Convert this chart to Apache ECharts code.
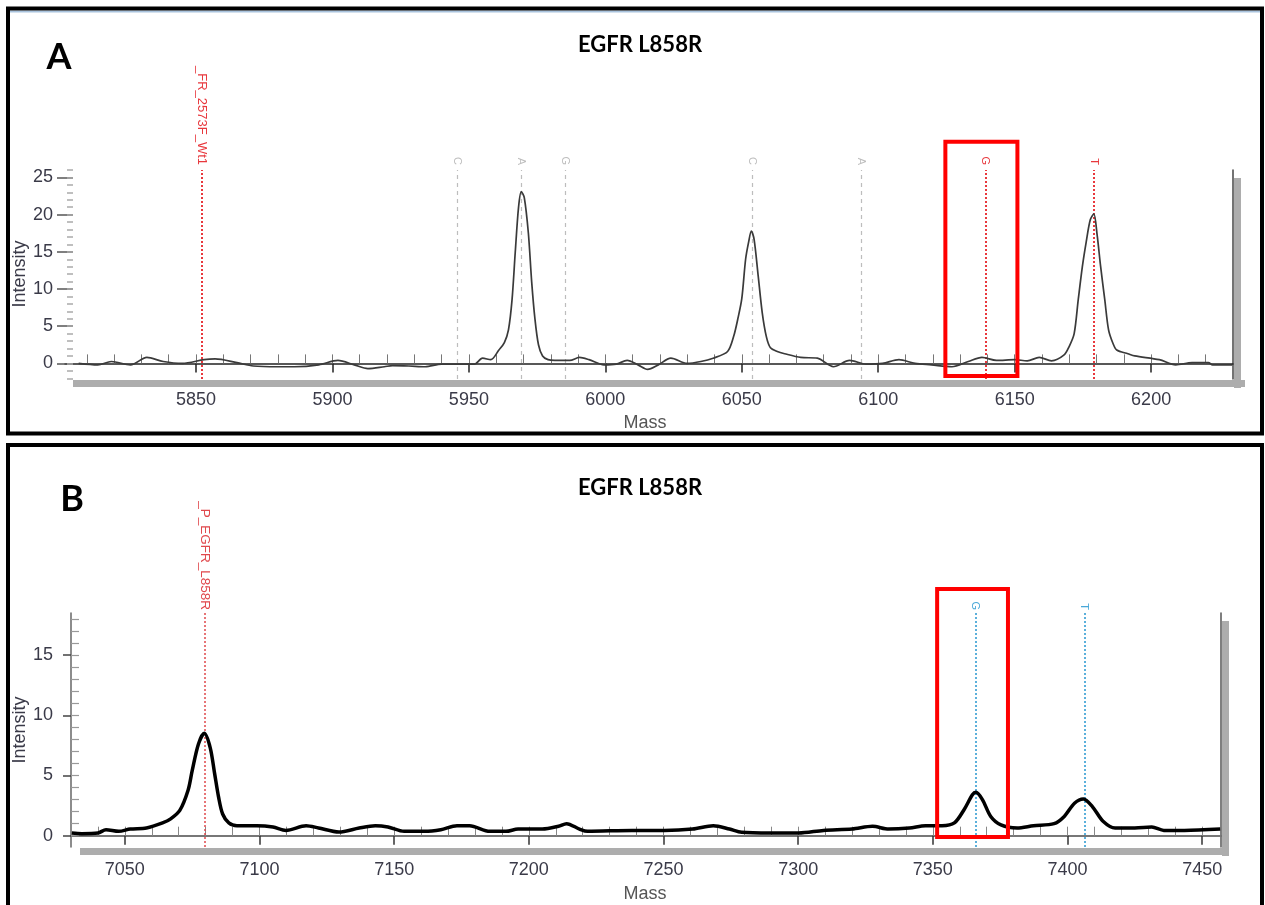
<!DOCTYPE html>
<html><head><meta charset="utf-8">
<script src="https://cdn.jsdelivr.net/npm/echarts@6/dist/echarts.min.js"></script>
<style>html,body{margin:0;padding:0;background:#fff}#c{width:1265px;height:905px}</style>
</head><body><div id="c"></div>
<script>
// ---------- DATA ----------
const titleText = 'EGFR L858R';
// Panel A spectrum
const massA = [5807,5814,5819,5826,5832,5838,5845,5853,5857,5865,5871,5880,5886,5895,5902,5908,5913,5919,5922,5928,5934,5940,5946,5952,5955,5958,5961,5963,5964.5,5965.8,5967,5968.2,5969.2,5970.3,5971.8,5973,5974.2,5975.5,5977,5979,5981.5,5987,5990.5,5994,5999.5,6004,6008,6012,6015.5,6019.4,6024,6030,6035,6039.5,6044.8,6047,6048.5,6050,6051.4,6052.5,6053.5,6054.5,6056,6057.5,6059,6060.5,6063,6065.7,6071.6,6077.7,6083.6,6089.5,6095.6,6101.6,6107.6,6113.5,6119.5,6127,6133,6138,6143.3,6150,6154.6,6159,6163.5,6168,6170,6171.8,6173.3,6174.8,6176.2,6177.7,6179,6180.2,6181.5,6183,6184.4,6186,6187.4,6191.5,6194,6203,6209,6215,6221,6222.5,6229.7];
const intensityA = [0.0,-0.2,0.25,-0.2,0.8,0.25,0.0,0.5,0.6,0.1,-0.35,-0.45,-0.45,-0.2,0.4,-0.2,-0.7,-0.45,-0.3,-0.35,-0.45,-0.1,-0.1,-0.1,0.7,0.5,1.8,2.8,4.5,8.5,15,21,23.1,22.3,17.5,11,6,2.5,1.0,0.5,0.4,0.4,0.8,0.5,-0.2,-0.1,0.4,-0.2,-0.8,-0.2,0.7,0.0,0.25,0.7,1.6,3.6,5.9,8.7,14,16.3,17.8,16.7,11.8,6.8,3.6,2.1,1.6,1.3,0.8,0.7,-0.45,0.4,-0.1,0.0,0.5,0.0,-0.2,-0.45,0.25,0.8,0.4,0.5,0.35,0.8,0.35,1.1,2.3,4.0,8.6,13,16.3,19.3,20.1,17.3,13,8.6,4.5,2.7,1.8,1.3,1.0,0.5,-0.2,0.1,0.1,-0.2,-0.2];
// Panel B spectrum
const massB = [7030.3,7034,7040,7043,7047.7,7052,7058,7064,7067,7070.4,7073.5,7075,7077.3,7079.5,7081.7,7083.3,7084.8,7086.3,7088.6,7091.6,7099,7105,7109.8,7117.3,7121.9,7129.5,7137,7143,7147.7,7153.7,7161.3,7167.3,7173.3,7178,7185.5,7191.5,7196,7205,7211,7214,7218.8,7221.8,7238.3,7250.3,7260.8,7268.5,7274.5,7279,7289.7,7300.2,7309.4,7320,7327.6,7333.6,7341.3,7347.3,7353.4,7358,7361.7,7364.7,7366,7368.4,7371.5,7375.3,7381.3,7387.4,7395,7398.8,7402.6,7405.9,7409.3,7413.2,7417.7,7425,7431.3,7435.8,7443.4,7456.7];
const intensityB = [0.22,0.17,0.22,0.5,0.36,0.55,0.64,1.06,1.4,2.1,3.8,5.4,7.6,8.5,7.3,5.2,3.2,1.8,1.06,0.83,0.83,0.72,0.44,0.83,0.64,0.3,0.64,0.83,0.72,0.36,0.36,0.5,0.83,0.83,0.36,0.36,0.55,0.55,0.78,1.0,0.55,0.36,0.44,0.44,0.55,0.83,0.55,0.28,0.22,0.22,0.44,0.55,0.78,0.55,0.64,0.83,0.83,1.06,2.2,3.4,3.6,3.0,1.6,0.9,0.64,0.83,1.0,1.6,2.7,3.05,2.4,1.2,0.64,0.64,0.72,0.44,0.44,0.55];
// Tick labels
const xTicksA = [5850,5900,5950,6000,6050,6100,6150,6200];
const yTicksA = [0,5,10,15,20,25];
const xTicksB = [7050,7100,7150,7200,7250,7300,7350,7400,7450];
const yTicksB = [0,5,10,15];
// Axis ranges
const xRangeA = [5802, 6230], yRangeA = [-2.1, 26];
const xRangeB = [7030, 7457], yRangeB = [-0.94, 18.5];
// Expected-mass markers
const markerMassA = [5852, 5945.6, 5969.2, 5985.4, 6053.7, 6093.6, 6139.3, 6179];
const markerLabelA = ['_FR_2573F_Wt1','C','A','G','C','A','G','T'];
const markerStatusA = ['primer','absent','absent','absent','absent','absent','call','call'];
const markerMassB = [7079.5, 7365.8, 7406.3];
const markerLabelB = ['_P_EGFR_L858R','G','T'];
const markerStatusB = ['primer','call','call'];
// Highlight boxes [massFrom, massTo, intensityFrom, intensityTo]
const boxA = [6124.6, 6151.0, -1.7, 29.8];
const boxB = [7351.6, 7377.9, -0.1, 20.5];

// ---------- LAYOUT / STYLE ----------
const GA = {left:65, top:170, width:1168, height:209};
const GB = {left:71, top:613, width:1150, height:234};
const FONT = '"Liberation Sans", Arial, sans-serif';
const TXT = '#3a3a48';
const styleA = {
  primer:{color:'#e8383d', type:[2,2], width:2, font:13},
  absent:{color:'#bdbdbd', type:[4,4], width:1.2, font:11},
  call:{color:'#e8383d', type:[2,2], width:2, font:11}
};
const styleB = {
  primer:{color:'#e0484c', type:[2,2], width:1.5, font:13.5},
  call:{color:'#4aa8d8', type:[2,2], width:1.8, font:11}
};
function range(a,b,s){const r=[];for(let v=a;v<=b+1e-9;v+=s)r.push(v);return r;}
const plain = v => String(Math.round(v));

function markLines(masses, statuses, styles, yr){
  return masses.map((m,i)=>{
    const s = styles[statuses[i]];
    return [
      {coord:[m, yr[0]], lineStyle:{color:s.color, type:s.type, width:s.width}},
      {coord:[m, yr[1]]}
    ];
  });
}

const chart = echarts.init(document.getElementById('c'), null, {renderer:'canvas'});
const labelStyle = {color:TXT, fontFamily:FONT, fontSize:18, formatter:plain};
const noSplit = {show:false};

const option = {
  animation:false,
  backgroundColor:'#fff',
  grid:[
    {left:GA.left, top:GA.top, width:GA.width, height:GA.height},
    {left:GB.left, top:GB.top, width:GB.width, height:GB.height}
  ],
  xAxis:[
    {type:'value', gridIndex:0, position:'bottom', min:xRangeA[0], max:xRangeA[1],
     axisLine:{show:true, lineStyle:{color:'#222', width:1.5}},
     axisTick:{show:true, inside:false, length:9, customValues:xTicksA, lineStyle:{color:'#222', width:1.5}},
     axisLabel:{show:true, customValues:xTicksA, margin:12, ...labelStyle},
     splitLine:noSplit},
    {type:'value', gridIndex:0, position:'bottom', min:xRangeA[0], max:xRangeA[1],
     axisLine:{show:false},
     axisTick:{show:true, inside:true, length:9, customValues:range(5810,6220,10), lineStyle:{color:'#777', width:1}},
     axisLabel:{show:false}, splitLine:noSplit},
    {type:'value', gridIndex:1, position:'bottom', min:xRangeB[0], max:xRangeB[1],
     axisLine:{show:true, lineStyle:{color:'#333', width:1.5}},
     axisTick:{show:true, inside:false, length:9, customValues:xTicksB, lineStyle:{color:'#333', width:1.5}},
     axisLabel:{show:true, customValues:xTicksB, margin:14, ...labelStyle},
     splitLine:noSplit},
    {type:'value', gridIndex:1, position:'bottom', min:xRangeB[0], max:xRangeB[1],
     axisLine:{show:false},
     axisTick:{show:true, inside:true, length:9, customValues:range(7040,7450,10), lineStyle:{color:'#888', width:1}},
     axisLabel:{show:false}, splitLine:noSplit},
    {type:'value', gridIndex:1, position:'top', min:xRangeB[0], max:xRangeB[1],
     axisLine:{show:true, lineStyle:{color:'#777', width:2}},
     axisTick:{show:false}, axisLabel:{show:false}, splitLine:noSplit}
  ],
  yAxis:[
    {type:'value', gridIndex:0, position:'left', offset:-8, min:yRangeA[0], max:yRangeA[1],
     axisLine:{show:false},
     axisTick:{show:true, inside:false, length:16, customValues:yTicksA, lineStyle:{color:'#555', width:1.5}},
     axisLabel:{show:true, customValues:yTicksA, margin:20, ...labelStyle},
     splitLine:noSplit},
    {type:'value', gridIndex:0, position:'left', offset:-8, min:yRangeA[0], max:yRangeA[1],
     axisLine:{show:false},
     axisTick:{show:true, inside:false, length:6, customValues:range(-2,26,1), lineStyle:{color:'#aaa', width:1.5}},
     axisLabel:{show:false}, splitLine:noSplit},
    {type:'value', gridIndex:0, position:'right', min:yRangeA[0], max:yRangeA[1],
     axisLine:{show:true, lineStyle:{color:'#444', width:1.5}},
     axisTick:{show:false}, axisLabel:{show:false}, splitLine:noSplit},
    {type:'value', gridIndex:1, position:'left', min:yRangeB[0], max:yRangeB[1],
     axisLine:{show:true, lineStyle:{color:'#666', width:1.5}},
     axisTick:{show:true, inside:false, length:8, customValues:yTicksB, lineStyle:{color:'#444', width:1.5}},
     axisLabel:{show:true, customValues:yTicksB, margin:18, ...labelStyle},
     splitLine:noSplit},
    {type:'value', gridIndex:1, position:'left', min:yRangeB[0], max:yRangeB[1],
     axisLine:{show:false},
     axisTick:{show:true, inside:true, length:8, customValues:range(0,18,1), lineStyle:{color:'#999', width:1.2}},
     axisLabel:{show:false}, splitLine:noSplit},
    {type:'value', gridIndex:1, position:'right', min:yRangeB[0], max:yRangeB[1],
     axisLine:{show:true, lineStyle:{color:'#555', width:1.5}},
     axisTick:{show:false}, axisLabel:{show:false}, splitLine:noSplit}
  ],
  series:[
    {type:'line', xAxisIndex:0, yAxisIndex:0, data:massA.map((m,i)=>[m,intensityA[i]]),
     showSymbol:false, smooth:0.3, clip:false,
     lineStyle:{color:'#3a3a3a', width:1.7}, z:5,
     markLine:{silent:true, symbol:'none', label:{show:false}, animation:false, z:3,
       data:markLines(markerMassA, markerStatusA, styleA, yRangeA)}},
    {type:'line', xAxisIndex:2, yAxisIndex:3, data:massB.map((m,i)=>[m,intensityB[i]]),
     showSymbol:false, smooth:0.3, clip:false,
     lineStyle:{color:'#000', width:3.5}, z:5,
     markLine:{silent:true, symbol:'none', label:{show:false}, animation:false, z:3,
       data:markLines(markerMassB, markerStatusB, styleB, yRangeB)}}
  ]
};
chart.setOption(option);

// ---------- ANNOTATIONS (positioned through the chart's own scales) ----------
function px(si, m, v){ return chart.convertToPixel({seriesIndex:si}, [m, v]); }
const g = [];
g.push({type:'rect', shape:{x:8, y:8.5, width:1254, height:425}, style:{fill:'none', stroke:'#000', lineWidth:4}, z:100});
g.push({type:'line', shape:{x1:10, y1:11.5, x2:1260, y2:11.5}, style:{stroke:'#a9c3dd', lineWidth:2}, z:99});
g.push({type:'rect', shape:{x:8, y:445, width:1254, height:480}, style:{fill:'none', stroke:'#000', lineWidth:4}, z:100});
g.push({type:'rect', shape:{x:GA.left+8, y:GA.top+GA.height+1, width:GA.width+4, height:7}, style:{fill:'#adadad'}, z:1});
g.push({type:'rect', shape:{x:GA.left+GA.width+1, y:GA.top+8, width:7, height:GA.height+1}, style:{fill:'#adadad'}, z:1});
g.push({type:'rect', shape:{x:GB.left+9, y:GB.top+GB.height+1, width:GB.width-2, height:7}, style:{fill:'#adadad'}, z:1});
g.push({type:'rect', shape:{x:GB.left+GB.width+1, y:GB.top+8, width:7, height:GB.height+1}, style:{fill:'#adadad'}, z:1});
[[640,45],[640,488]].forEach(p=>g.push({type:'text', x:p[0], y:p[1], style:{text:titleText, font:'bold 22px Lato, "Open Sans", sans-serif', fill:'#000', align:'center', verticalAlign:'middle'}, z:100}));
g.push({type:'text', x:59, y:57, style:{text:'A', font:'bold 36px Lato, "Open Sans", sans-serif', fill:'#000', align:'center', verticalAlign:'middle'}, z:100});
g.push({type:'text', x:72, y:499, style:{text:'B', font:'bold 36px Lato, "Open Sans", sans-serif', fill:'#000', align:'center', verticalAlign:'middle'}, z:100});
[[20,274],[20,730]].forEach(p=>g.push({type:'text', x:p[0], y:p[1], rotation:Math.PI/2, style:{text:'Intensity', font:'18px '+FONT, fill:TXT, align:'center', verticalAlign:'middle'}, z:100}));
[[645,423],[645,894]].forEach(p=>g.push({type:'text', x:p[0], y:p[1], style:{text:'Mass', font:'18px '+FONT, fill:'#555', align:'center', verticalAlign:'middle'}, z:100}));
function markerLabels(si, masses, labels, statuses, styles, yTop, gap){
  masses.forEach((m,i)=>{
    const p = px(si, m, yTop);
    const s = styles[statuses[i]];
    g.push({type:'text', x:p[0], y:p[1]-gap, rotation:-Math.PI/2,
      style:{text:labels[i], font:s.font+'px '+FONT, fill:s.color, align:'right', verticalAlign:'middle'}, z:50});
  });
}
markerLabels(0, markerMassA, markerLabelA, markerStatusA, styleA, yRangeA[1], 5);
markerLabels(1, markerMassB, markerLabelB, markerStatusB, styleB, yRangeB[1], 3);
function box(si, b){
  const p1 = px(si, b[0], b[3]), p2 = px(si, b[1], b[2]);
  g.push({type:'rect', shape:{x:p1[0], y:p1[1], width:p2[0]-p1[0], height:p2[1]-p1[1]}, style:{fill:'none', stroke:'#ff0000', lineWidth:4}, z:120});
}
box(0, boxA); box(1, boxB);
chart.setOption({graphic:g});
</script></body></html>
